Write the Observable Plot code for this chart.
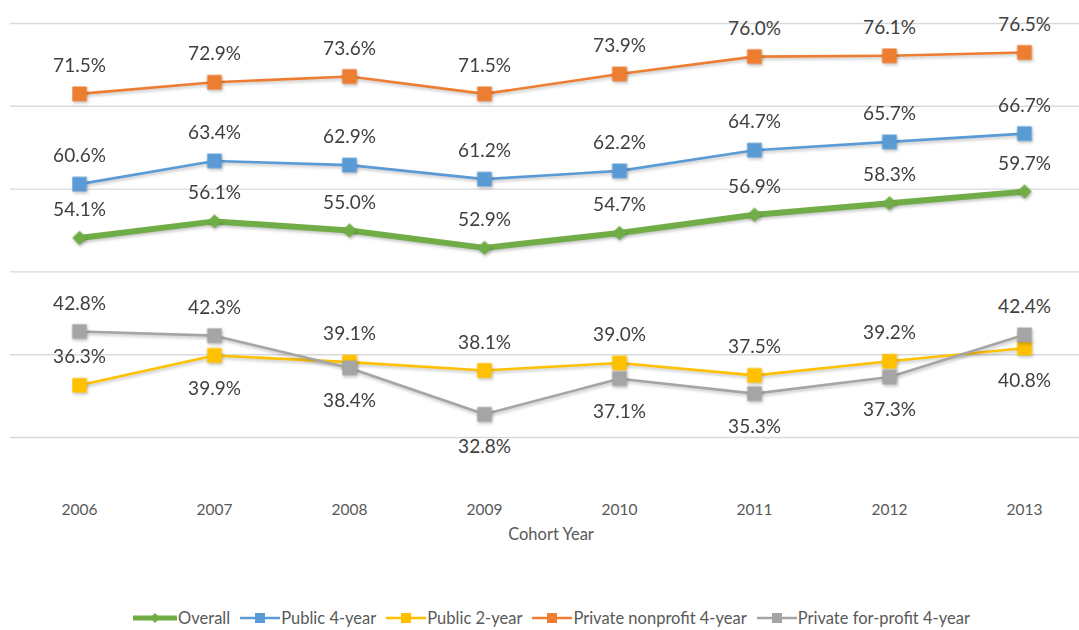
<!DOCTYPE html>
<html><head><meta charset="utf-8">
<script src="https://cdn.jsdelivr.net/npm/d3@7"></script>
<script src="https://cdn.jsdelivr.net/npm/@observablehq/plot@0.6"></script>
<style>
body{margin:0;background:#fff;font-family:Lato,"Open Sans",sans-serif;}
#chart{width:1079px;height:630px;position:relative;overflow:hidden;background:#fff}
#legend{position:absolute;left:0;top:606px;width:1079px;height:24px;box-sizing:border-box;padding-left:24px;display:flex;justify-content:center;align-items:center;font-size:16.5px;line-height:20px;color:#595959;white-space:nowrap}
.item{display:flex;align-items:center;margin:0 5px}
.item svg{margin-right:1px}
</style></head><body><div id="chart"></div>
<script>
const years = [2006, 2007, 2008, 2009, 2010, 2011, 2012, 2013];
const seriesNames = ["Overall", "Public 4-year", "Public 2-year", "Private nonprofit 4-year", "Private for-profit 4-year"];
const overall          = [54.1, 56.1, 55.0, 52.9, 54.7, 56.9, 58.3, 59.7];
const public4          = [60.6, 63.4, 62.9, 61.2, 62.2, 64.7, 65.7, 66.7];
const public2          = [36.3, 39.9, 39.1, 38.1, 39.0, 37.5, 39.2, 40.8];
const privateNonprofit = [71.5, 72.9, 73.6, 71.5, 73.9, 76.0, 76.1, 76.5];
const privateForProfit = [42.8, 42.3, 38.4, 32.8, 37.1, 35.3, 37.3, 42.4];
const yTicks = [30, 40, 50, 60, 70, 80];
const colors = ["#70AD47", "#5B9BD5", "#FFC000", "#ED7D31", "#A5A5A5"];

const valuesList = [overall, public4, public2, privateNonprofit, privateForProfit];
const rows = [];
seriesNames.forEach((s, i) => years.forEach((yr, j) => {
  let above = true;
  if (i === 2 || i === 4) {
    const other = (i === 2 ? privateForProfit : public2)[j];
    const v = valuesList[i][j];
    if (other > v && other - v < 6) above = false;
  }
  rows.push({series: s, year: yr, value: valuesList[i][j], above});
}));

const W = 1079, H = 604;
const marks = [
  Plot.ruleY(yTicks, {stroke: "#d9d9d9", strokeWidth: 1.4}),
  Plot.axisX({tickSize: 0, tickPadding: 66, fontSize: 15.5, fill: "#595959", label: null, tickFormat: d => String(d)}),
  Plot.text(["Cohort Year"], {frameAnchor: "bottom", dy: 102, dx: 6, fontSize: 16.5, fill: "#595959"})
];
seriesNames.forEach((s, i) => {
  const d = rows.filter(r => r.series === s);
  const isOverall = i === 0;
  marks.push(Plot.line(d, {x: "year", y: "value", stroke: colors[i], strokeWidth: isOverall ? 6 : 2.6, curve: "linear"}));
  marks.push(Plot.dot(d, {x: "year", y: "value", fill: colors[i], stroke: null,
    symbol: isOverall ? "diamond2" : "square", r: isOverall ? 6.5 : 8.3}));
});
marks.push(Plot.text(rows.filter(r => r.above), {x: "year", y: "value", text: r => r.value.toFixed(1) + "%", dy: -28, fontSize: 19, fill: "#404040"}));
marks.push(Plot.text(rows.filter(r => !r.above), {x: "year", y: "value", text: r => r.value.toFixed(1) + "%", dy: 33, fontSize: 19, fill: "#404040"}));

const svg = Plot.plot({
  width: W, height: H,
  marginLeft: 10, marginRight: 0, marginTop: 23, marginBottom: H - 437,
  style: {fontFamily: "Lato, 'Open Sans', sans-serif", fontSize: "15px", background: "#fff", overflow: "visible"},
  x: {type: "point", domain: years, range: [77, 1025], padding: 0},
  y: {domain: [30, 80], range: [437, 23], axis: null},
  marks
});
d3.select(svg).selectAll('g[aria-label="line"], g[aria-label="dot"]').style("filter", "drop-shadow(1px 2px 1.5px rgba(0,0,0,0.22))");
const chart = document.getElementById("chart");
chart.appendChild(svg);

const legend = document.createElement("div");
legend.id = "legend";
seriesNames.forEach((s, i) => {
  const item = document.createElement("div");
  item.className = "item";
  const isOverall = i === 0;
  const w = isOverall ? 44 : 40;
  const marker = isOverall
    ? `<path d="M${w/2} 1 L${w/2+5} 6 L${w/2} 11 L${w/2-5} 6 Z" fill="${colors[i]}"/>`
    : `<rect x="${w/2-5}" y="1" width="10" height="10" fill="${colors[i]}"/>`;
  item.innerHTML = `<svg width="${w}" height="12"><line x1="0" x2="${w}" y1="6" y2="6" stroke="${colors[i]}" stroke-width="${isOverall ? 5 : 2.5}" stroke-linecap="round"/>${marker}</svg><span>${s}</span>`;
  legend.appendChild(item);
});
chart.appendChild(legend);
</script>
</body></html>
